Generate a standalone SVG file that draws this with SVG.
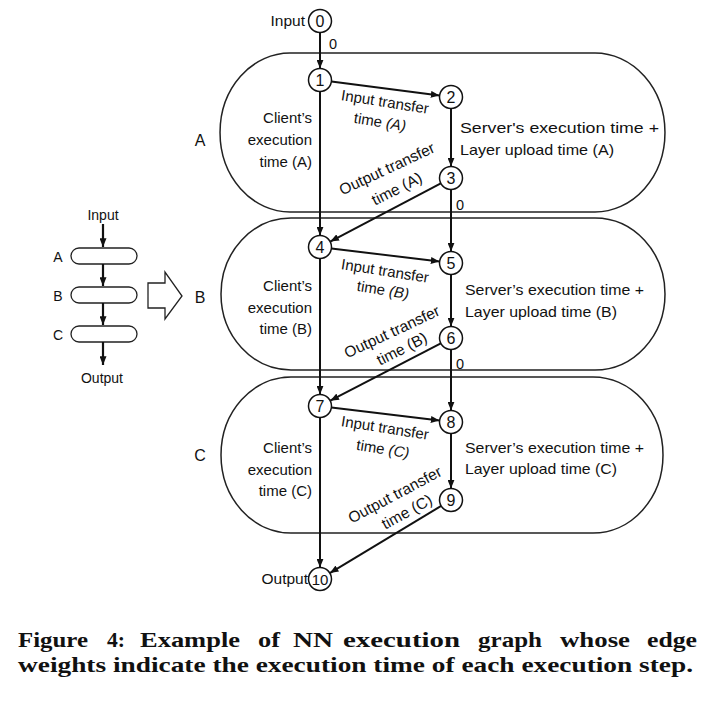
<svg xmlns="http://www.w3.org/2000/svg" width="719" height="705" viewBox="0 0 719 705">
<style>
  text { font-family: "Liberation Sans", Arial, sans-serif; fill: #111; }
  .lbl { font-size: 14.5px; }
  .rl { font-size: 15px; }
  .ot { font-size: 15.5px; }
  .node circle { fill: #fff; stroke: #111; stroke-width: 1.5; }
  .node text { font-size: 16px; text-anchor: middle; }
  .layer path { fill: none; stroke: #222; stroke-width: 1.5; }
  .edge { stroke: #111; stroke-width: 2; fill: none; marker-end: url(#arr); }
  .mini { stroke: #111; stroke-width: 2.2; fill: none; marker-end: url(#arr); }
  .pill { fill: #fff; stroke: #222; stroke-width: 1.3; }
  .cap { font-family: "Liberation Serif", "Times New Roman", serif; font-weight: bold; font-size: 22px; }
  .end { text-anchor: end; }
  .mid { text-anchor: middle; }
</style>
<defs>
  <marker id="arr" viewBox="0 0 10 8" refX="10" refY="4" markerWidth="9" markerHeight="7" orient="auto" markerUnits="userSpaceOnUse">
    <path d="M0,0 L10,4 L0,8 z" fill="#111"/>
  </marker>
</defs>
<rect width="719" height="705" fill="#fff"/>

<!-- layer shapes -->
<g id="layer-A" class="layer">
  <path d="M 290 53 H 595 A 70 79.5 0 0 1 595 212 H 290 A 70 79.5 0 0 1 290 53 Z"/>
  <text x="200" y="146" class="mid" style="font-size:16px">A</text>
</g>
<g id="layer-B" class="layer">
  <path d="M 291 218 H 595 A 70 76 0 0 1 595 370 H 291 A 70 76 0 0 1 291 218 Z"/>
  <text x="200" y="303" class="mid" style="font-size:16px">B</text>
</g>
<g id="layer-C" class="layer">
  <path d="M 291 377 H 593 A 70 78 0 0 1 593 533 H 291 A 70 78 0 0 1 291 377 Z"/>
  <text x="200" y="461" class="mid" style="font-size:16px">C</text>
</g>

<!-- connectors -->
<g id="connectors">
  <line class="edge" x1="320" y1="32.5" x2="320" y2="68.5"/>
  <line class="edge" x1="331.4" y1="81.5" x2="439.6" y2="95.5"/>
  <line class="edge" x1="320" y1="91.5" x2="320" y2="235.5"/>
  <line class="edge" x1="451" y1="108.5" x2="451" y2="166.5"/>
  <line class="edge" x1="440.8" y1="183.4" x2="330.2" y2="241.6"/>
  <line class="edge" x1="451" y1="189.5" x2="451" y2="251.5"/>
  <line class="edge" x1="331.4" y1="248.4" x2="439.6" y2="261.6"/>
  <line class="edge" x1="320" y1="258.5" x2="320" y2="394.5"/>
  <line class="edge" x1="451" y1="274.5" x2="451" y2="326.5"/>
  <line class="edge" x1="440.8" y1="343.3" x2="330.2" y2="400.7"/>
  <line class="edge" x1="451" y1="349.5" x2="451" y2="410.5"/>
  <line class="edge" x1="331.4" y1="407.4" x2="439.6" y2="420.6"/>
  <line class="edge" x1="320" y1="417.5" x2="320" y2="567.5"/>
  <line class="edge" x1="451" y1="433.5" x2="451" y2="488.5"/>
  <line class="edge" x1="441.2" y1="505.9" x2="329.8" y2="573.1"/>

  <!-- edge labels -->
  <text class="lbl" x="329" y="49">0</text>
  <text class="lbl" x="456" y="210">0</text>
  <text class="lbl" x="456" y="369">0</text>

  <text class="rl end" x="312" y="123">Client’s</text>
  <text class="rl end" x="312" y="145">execution</text>
  <text class="rl end" x="312" y="167">time (A)</text>
  <text class="rl end" x="312" y="291">Client’s</text>
  <text class="rl end" x="312" y="313">execution</text>
  <text class="rl end" x="312" y="334">time (B)</text>
  <text class="rl end" x="312" y="453">Client’s</text>
  <text class="rl end" x="312" y="475">execution</text>
  <text class="rl end" x="312" y="496">time (C)</text>

  <text class="lbl" x="460" y="133" textLength="199" lengthAdjust="spacingAndGlyphs" style="font-size:15px">Server's execution time +</text>
  <text class="lbl" x="460" y="155" textLength="154" lengthAdjust="spacingAndGlyphs" style="font-size:15px">Layer upload time (A)</text>
  <text class="lbl" x="465" y="295" textLength="179" lengthAdjust="spacingAndGlyphs" style="font-size:15px">Server’s execution time +</text>
  <text class="lbl" x="465" y="317" textLength="152" lengthAdjust="spacingAndGlyphs" style="font-size:15px">Layer upload time (B)</text>
  <text class="lbl" x="465" y="453" textLength="179" lengthAdjust="spacingAndGlyphs" style="font-size:15px">Server’s execution time +</text>
  <text class="lbl" x="465" y="474" textLength="152" lengthAdjust="spacingAndGlyphs" style="font-size:15px">Layer upload time (C)</text>

  <text class="rl mid" x="385" y="107" transform="rotate(9 385 102)">Input transfer</text>
  <text class="rl mid" x="380" y="127" transform="rotate(9 380 122)">time <tspan font-style="italic">(A)</tspan></text>
  <text class="rl mid" x="385" y="276" transform="rotate(9 385 271)">Input transfer</text>
  <text class="rl mid" x="383" y="295" transform="rotate(9 383 290)">time <tspan font-style="italic">(B)</tspan></text>
  <text class="rl mid" x="385" y="433" transform="rotate(9 385 428)">Input transfer</text>
  <text class="rl mid" x="383" y="454" transform="rotate(9 383 449)">time <tspan font-style="italic">(C)</tspan></text>

  <text class="ot mid" x="387" y="174" transform="rotate(-25 387 169)">Output transfer</text>
  <text class="ot mid" x="397" y="194" transform="rotate(-27 397 189)">time (A)</text>
  <text class="ot mid" x="392" y="337" transform="rotate(-25 392 332)">Output transfer</text>
  <text class="ot mid" x="402" y="354" transform="rotate(-27 402 349)">time (B)</text>
  <text class="ot mid" x="395" y="500" transform="rotate(-28 395 495)">Output transfer</text>
  <text class="ot mid" x="407" y="517" transform="rotate(-29 407 512)">time (C)</text>
</g>

<!-- nodes -->
<g id="node-0" class="node"><circle cx="320" cy="21" r="11.5"/><text x="320" y="27">0</text></g>
<text class="end" x="305" y="26" style="font-size:15.5px">Input</text>
<g id="node-1" class="node"><circle cx="320" cy="80" r="11.5"/><text x="320" y="86">1</text></g>
<g id="node-2" class="node"><circle cx="451" cy="97" r="11.5"/><text x="451" y="103">2</text></g>
<g id="node-3" class="node"><circle cx="451" cy="178" r="11.5"/><text x="451" y="184">3</text></g>
<g id="node-4" class="node"><circle cx="320" cy="247" r="11.5"/><text x="320" y="253">4</text></g>
<g id="node-5" class="node"><circle cx="451" cy="263" r="11.5"/><text x="451" y="269">5</text></g>
<g id="node-6" class="node"><circle cx="451" cy="338" r="11.5"/><text x="451" y="344">6</text></g>
<g id="node-7" class="node"><circle cx="320" cy="406" r="11.5"/><text x="320" y="412">7</text></g>
<g id="node-8" class="node"><circle cx="451" cy="422" r="11.5"/><text x="451" y="428">8</text></g>
<g id="node-9" class="node"><circle cx="451" cy="500" r="11.5"/><text x="451" y="506">9</text></g>
<g id="node-10" class="node"><circle cx="320" cy="579" r="11.5"/><text x="320" y="585" style="font-size:15px">10</text></g>
<text class="end" x="308" y="584" style="font-size:15.5px">Output</text>

<!-- mini overview diagram -->
<g id="mini">
  <text class="mid" x="103" y="220" style="font-size:14px">Input</text>
  <line class="mini" x1="103" y1="224" x2="103" y2="247"/>
  <rect class="pill" x="71" y="248" width="66" height="16" rx="8"/>
  <text class="mid" x="58" y="262" style="font-size:14px">A</text>
  <line class="mini" x1="103" y1="264" x2="103" y2="286"/>
  <rect class="pill" x="71" y="287" width="66" height="16" rx="8"/>
  <text class="mid" x="58" y="301" style="font-size:14px">B</text>
  <line class="mini" x1="103" y1="303" x2="103" y2="325"/>
  <rect class="pill" x="71" y="326" width="66" height="16" rx="8"/>
  <text class="mid" x="58" y="340" style="font-size:14px">C</text>
  <line class="mini" x1="103" y1="342" x2="103" y2="365"/>
  <text class="mid" x="102" y="383" style="font-size:14px">Output</text>
  <path d="M148 283 L165 283 L165 272 L182 296 L165 319 L165 308 L148 308 Z" fill="#fff" stroke="#222" stroke-width="1.3"/>
</g>

<!-- caption -->
<g id="caption">
  <text class="cap" x="18" y="647" textLength="70" lengthAdjust="spacingAndGlyphs">Figure</text>
  <text class="cap" x="107" y="647" textLength="18" lengthAdjust="spacingAndGlyphs">4:</text>
  <text class="cap" x="140" y="647" textLength="100" lengthAdjust="spacingAndGlyphs">Example</text>
  <text class="cap" x="258" y="647" textLength="22" lengthAdjust="spacingAndGlyphs">of</text>
  <text class="cap" x="293" y="647" textLength="40" lengthAdjust="spacingAndGlyphs">NN</text>
  <text class="cap" x="343" y="647" textLength="117" lengthAdjust="spacingAndGlyphs">execution</text>
  <text class="cap" x="478" y="647" textLength="64" lengthAdjust="spacingAndGlyphs">graph</text>
  <text class="cap" x="560" y="647" textLength="70" lengthAdjust="spacingAndGlyphs">whose</text>
  <text class="cap" x="647" y="647" textLength="50" lengthAdjust="spacingAndGlyphs">edge</text>
  <text class="cap" x="18" y="672" textLength="675" lengthAdjust="spacingAndGlyphs">weights indicate the execution time of each execution step.</text>
</g>
</svg>
